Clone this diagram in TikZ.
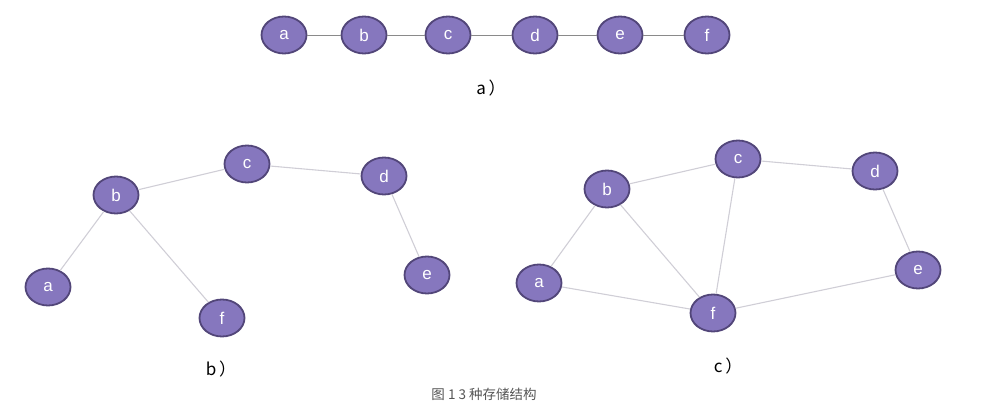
\documentclass[tikz,border=0pt]{standalone}
\usepackage{fontspec}
\setmainfont{Liberation Sans}
\newfontfamily\cjk{Noto Sans CJK SC}
\usetikzlibrary{shapes.geometric}
\definecolor{nodefill}{HTML}{8677BE}
\definecolor{nodeedge}{HTML}{524679}
\definecolor{lineA}{HTML}{8A8A8A}
\definecolor{lineB}{HTML}{D0CED6}
\definecolor{capgray}{HTML}{555555}
\tikzset{
  vtx/.style={ellipse, draw=nodeedge, line width=1.8pt, fill=nodefill, minimum width=45pt, minimum height=37pt, inner sep=0pt, text=white, font=\fontsize{17}{17}\selectfont},
  edgeA/.style={draw=lineA, line width=0.9pt},
  edgeB/.style={draw=lineB, line width=1.1pt},
  sublabel/.style={font=\cjk\fontsize{17}{17}\selectfont, text=black},
}
\begin{document}
\begin{tikzpicture}[x=1pt,y=-1pt]
\useasboundingbox (0,0) rectangle (987,411);
% row a
\node[vtx] (ta) at (284,35) {a};
\node[vtx] (tb) at (364,35) {b};
\node[vtx] (tc) at (448,35) {c};
\node[vtx] (td) at (535,35) {d};
\node[vtx] (te) at (620,35) {e};
\node[vtx] (tf) at (707,35) {f};
\draw[edgeA] (ta) -- (tb);
\draw[edgeA] (tb) -- (tc);
\draw[edgeA] (tc) -- (td);
\draw[edgeA] (td) -- (te);
\draw[edgeA] (te) -- (tf);
\node[sublabel] (la) at (491,88) {a\,）};
% b
\node[vtx] (ba) at (48,287) {a};
\node[vtx] (bb) at (116,195) {b};
\node[vtx] (bc) at (247,164) {c};
\node[vtx] (bd) at (384,176) {d};
\node[vtx] (be) at (427,275) {e};
\node[vtx] (bf) at (222,318) {f};
\draw[edgeB] (ba) -- (bb);
\draw[edgeB] (bb) -- (bc);
\draw[edgeB] (bc) -- (bd);
\draw[edgeB] (bd) -- (be);
\draw[edgeB] (bb) -- (bf);
\node[sublabel] (lb) at (221,369) {b\,）};
% c
\node[vtx] (ca) at (539,283) {a};
\node[vtx] (cb) at (607,189) {b};
\node[vtx] (cc) at (738,159) {c};
\node[vtx] (cd) at (875,171) {d};
\node[vtx] (ce) at (918,270) {e};
\node[vtx] (cf) at (713,313) {f};
\draw[edgeB] (ca) -- (cb);
\draw[edgeB] (cb) -- (cc);
\draw[edgeB] (cc) -- (cd);
\draw[edgeB] (cd) -- (ce);
\draw[edgeB] (cb) -- (cf);
\draw[edgeB] (cc) -- (cf);
\draw[edgeB] (ca) -- (cf);
\draw[edgeB] (cf) -- (ce);
\node[sublabel] (lc) at (728,366) {c\,）};
\node[font=\cjk\fontsize{13.5}{13.5}\selectfont, text=capgray] (cap) at (484,394) {图\ 1\ 3\ 种存储结构};
\end{tikzpicture}
\end{document}
